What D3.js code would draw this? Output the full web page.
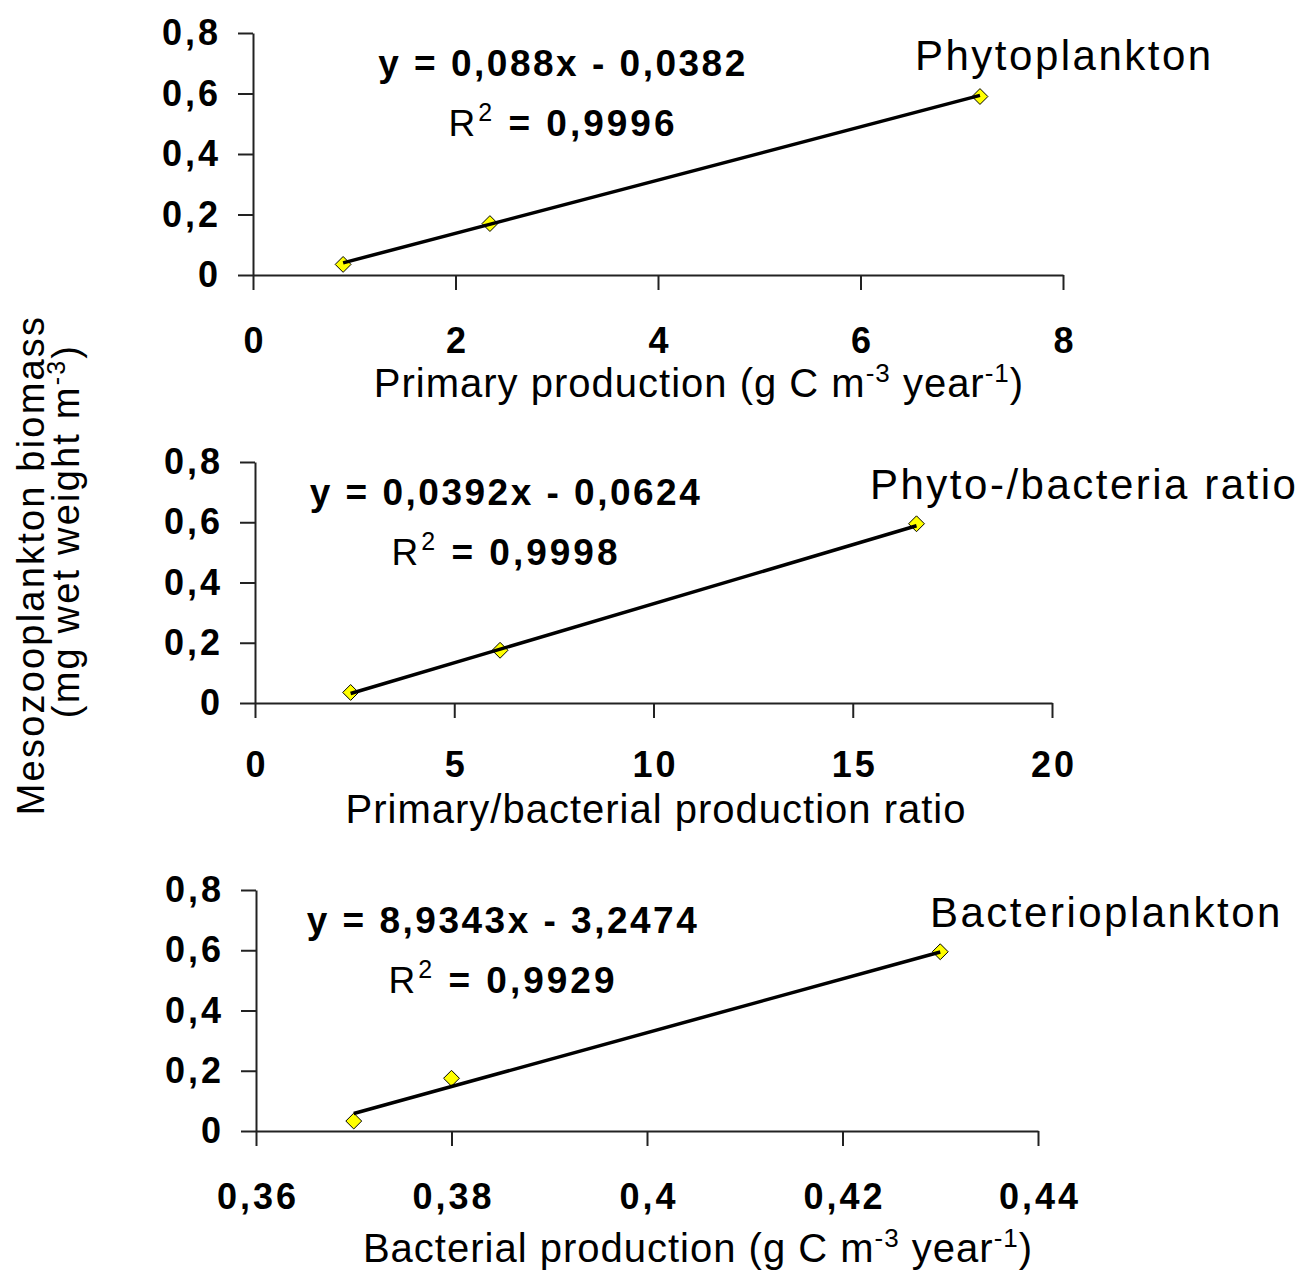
<!DOCTYPE html>
<html>

<head>
    <meta charset="utf-8">
    <title>Mesozooplankton biomass regressions</title>
    <script type="text/javascript" src="https://d3js.org/d3.v7.min.js"></script>

    <style>
        body {
            margin: 0;
            background: #fff;
        }

        svg {
            display: block;
            font-family: "Liberation Sans", Arial, sans-serif;
        }

        .axis path,
        .axis line {
            stroke: #222;
            stroke-width: 2;
        }

        .axis text {
            font-size: 36px;
            font-weight: bold;
            letter-spacing: 3px;
            fill: #000;
        }

        .trend {
            stroke: #000;
            stroke-width: 3.5;
            fill: none;
        }

        .point {
            fill: #ffff00;
            stroke: #000;
            stroke-width: 1;
        }
    </style>

</head>

<body>
</body>

<script type="text/javascript">
    //Width and height
    var w = 1298;
    var h = 1277;

    //Panel names
    var panelNames = ["Phytoplankton", "Phyto-/bacteria ratio", "Bacterioplankton"];

    //Observations, one array per panel
    var xValues1 = [0.89, 2.34, 7.18];
    var yValues1 = [0.035, 0.17, 0.59];
    var xValues2 = [2.4, 6.15, 16.6];
    var yValues2 = [0.035, 0.175, 0.595];
    var xValues3 = [0.37, 0.38, 0.43];
    var yValues3 = [0.033, 0.175, 0.595];

    //Linear fits
    var slopes = [0.088, 0.0392, 8.9343];
    var intercepts = [-0.0382, -0.0624, -3.2474];
    var equations = ["y = 0,088x - 0,0382", "y = 0,0392x - 0,0624", "y = 8,9343x - 3,2474"];
    var rSquared = ["0,9996", "0,9998", "0,9929"];

    //Axes
    var xDomains = [[0, 8], [0, 20], [0.36, 0.44]];
    var xTicks1 = [0, 2, 4, 6, 8];
    var xTicks2 = [0, 5, 10, 15, 20];
    var xTicks3 = [0.36, 0.38, 0.40, 0.42, 0.44];
    var yTicks = [0, 0.2, 0.4, 0.6, 0.8];

    var panels = [
        { name: panelNames[0], xs: xValues1, ys: yValues1, ticks: xTicks1, domain: xDomains[0],
          slope: slopes[0], intercept: intercepts[0], eq: equations[0], r2: rSquared[0],
          title: ["Primary production (g C m", "-3", " year", "-1", ")"],
          left: 253, right: 1063, top: 33, bottom: 275, pad: 37,
          eqX: 563, nameX: 915, titleX: 699, titleY: 397 },
        { name: panelNames[1], xs: xValues2, ys: yValues2, ticks: xTicks2, domain: xDomains[1],
          slope: slopes[1], intercept: intercepts[1], eq: equations[1], r2: rSquared[1],
          title: ["Primary/bacterial production ratio"],
          left: 255, right: 1052, top: 462, bottom: 703, pad: 33,
          eqX: 506, nameX: 870, titleX: 656, titleY: 823 },
        { name: panelNames[2], xs: xValues3, ys: yValues3, ticks: xTicks3, domain: xDomains[2],
          slope: slopes[2], intercept: intercepts[2], eq: equations[2], r2: rSquared[2],
          title: ["Bacterial production (g C m", "-3", " year", "-1", ")"],
          left: 256, right: 1038, top: 890, bottom: 1131, pad: 37,
          eqX: 503, nameX: 930, titleX: 698, titleY: 1262 }
    ];

    //Decimal comma
    function fmt(v) {
        return String(+v.toFixed(2)).replace(".", ",");
    }

    //Create SVG element
    var svg = d3.select("body")
        .append("svg")
        .attr("width", w)
        .attr("height", h);

    panels.forEach(function(p) {
        var x = d3.scaleLinear().domain(p.domain).range([p.left, p.right]);
        var y = d3.scaleLinear().domain([0, 0.8]).range([p.bottom, p.top]);

        var gx = svg.append("g")
            .attr("class", "axis")
            .attr("transform", "translate(0," + p.bottom + ")")
            .call(d3.axisBottom(x).tickValues(p.ticks).tickFormat(fmt)
                .tickSize(15).tickSizeOuter(0).tickPadding(p.pad));
        gx.selectAll(".tick text").attr("dx", 1.5);

        var gy = svg.append("g")
            .attr("class", "axis")
            .attr("transform", "translate(" + p.left + ",0)")
            .call(d3.axisLeft(y).tickValues(yTicks).tickFormat(fmt)
                .tickSize(15).tickSizeOuter(0).tickPadding(20));
        gy.selectAll(".tick text").attr("dx", 3);

        //markers first, trend line on top
        var pts = p.xs.map(function(d, i) { return [d, p.ys[i]]; });
        svg.selectAll(null)
            .data(pts)
            .enter()
            .append("path")
            .attr("class", "point")
            .attr("d", d3.symbol(d3.symbolDiamond2, 160))
            .attr("transform", function(d) {
                return "translate(" + x(d[0]) + "," + y(d[1]) + ")";
            });

        var x0 = d3.min(p.xs), x1 = d3.max(p.xs);
        svg.append("line")
            .attr("class", "trend")
            .attr("x1", x(x0))
            .attr("y1", y(p.slope * x0 + p.intercept))
            .attr("x2", x(x1))
            .attr("y2", y(p.slope * x1 + p.intercept));

        //equation and R2
        svg.append("text")
            .attr("x", p.eqX)
            .attr("y", p.top + 43)
            .attr("text-anchor", "middle")
            .style("font-size", "37px")
            .style("font-weight", "bold")
            .style("letter-spacing", "2.5px")
            .text(p.eq);

        var r = svg.append("text")
            .attr("x", p.eqX)
            .attr("y", p.top + 103)
            .attr("text-anchor", "middle")
            .style("font-size", "37px")
            .style("letter-spacing", "3px");
        r.append("tspan").text("R");
        r.append("tspan").attr("dy", -15).style("font-size", "25px").text("2");
        r.append("tspan").attr("dy", 15).style("font-weight", "bold").text(" = " + p.r2);

        //series name
        svg.append("text")
            .attr("x", p.nameX)
            .attr("y", p.top + 37)
            .style("font-size", "42px")
            .style("letter-spacing", "2.5px")
            .text(p.name);

        //x title with superscripts
        var t = svg.append("text")
            .attr("x", p.titleX)
            .attr("y", p.titleY)
            .attr("text-anchor", "middle")
            .style("font-size", "40px")
            .style("letter-spacing", "1px");
        p.title.forEach(function(s, i) {
            var sup = i % 2 === 1;
            t.append("tspan")
                .attr("dy", sup ? -15 : (i > 0 ? 15 : 0))
                .style("font-size", sup ? "26px" : null)
                .text(s);
        });
    });

    //shared y title
    var yt = svg.append("g")
        .attr("transform", "rotate(-90)")
        .style("font-size", "38px")
        .style("letter-spacing", "2.2px")
        .attr("text-anchor", "middle");
    yt.append("text")
        .attr("x", -565)
        .attr("y", 44)
        .text("Mesozooplankton biomass");
    var yt2 = yt.append("text")
        .attr("x", -531)
        .attr("y", 79);
    yt2.append("tspan").text("(mg wet weight m");
    yt2.append("tspan").attr("dy", -14).style("font-size", "25px").text("-3");
    yt2.append("tspan").attr("dy", 14).text(")");
</script>

</html>
